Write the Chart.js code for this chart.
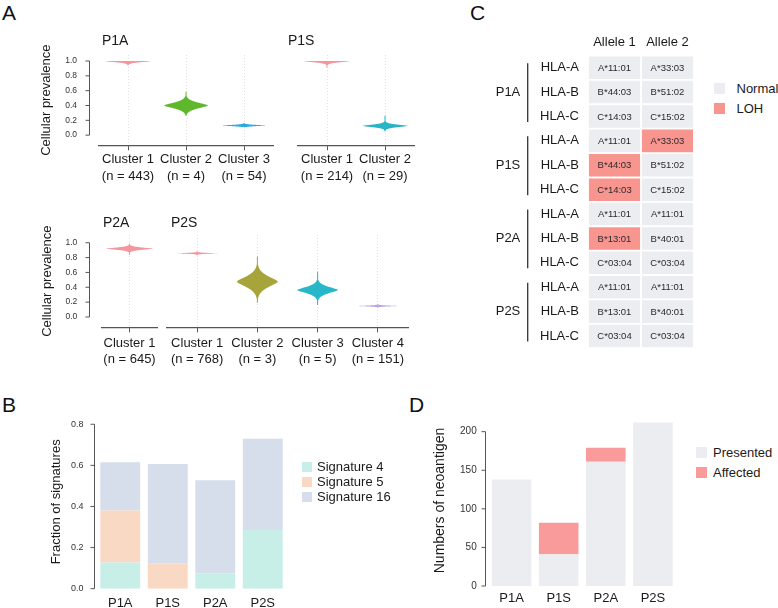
<!DOCTYPE html>
<html>
<head>
<meta charset="utf-8">
<script src="https://cdn.jsdelivr.net/npm/chart.js@4.4.1/dist/chart.umd.min.js"></script>
<style>
  body { margin: 0; background: #fff; font-family: "Liberation Sans", Arial, sans-serif; }
  #fig { position: relative; width: 778px; height: 608px; overflow: hidden; }
  #fig canvas { position: absolute; }
  .tag { position: absolute; font-size: 21px; line-height: 21px; color: #111; }
  .legend { position: absolute; font-size: 13px; color: #1a1a1a; white-space: nowrap; }
  .legend .row { display: flex; align-items: center; }
  .legend .sw { display: inline-block; flex: none; }
</style>
</head>
<body>
<div id="fig">
  <div class="tag" style="left:2px;top:2px">A</div>
  <div class="tag" style="left:2px;top:394px">B</div>
  <div class="tag" style="left:470px;top:2px">C</div>
  <div class="tag" style="left:409px;top:394px">D</div>
  <canvas id="p1a" width="255" height="160" style="left:30px;top:25px"></canvas>
  <canvas id="p1s" width="140" height="160" style="left:285px;top:25px"></canvas>
  <canvas id="p2a" width="135" height="175" style="left:30px;top:200px"></canvas>
  <canvas id="p2s" width="250" height="175" style="left:165px;top:200px"></canvas>
  <canvas id="hla" width="240" height="345" style="left:470px;top:20px"></canvas>
  <canvas id="sig" width="290" height="213" style="left:30px;top:395px"></canvas>
  <canvas id="neo" width="280" height="213" style="left:415px;top:395px"></canvas>
  <div class="legend" id="hlaLegend" style="left:714px;top:78.3px"></div>
  <div class="legend" id="sigLegend" style="left:302px;top:459.2px"></div>
  <div class="legend" id="neoLegend" style="left:696px;top:442.7px"></div>
</div>
<script>
"use strict";
// ---- A: cellular prevalence of clusters (peak, lower tip, upper tip, body spread)
const p1aClusters = ["Cluster 1", "Cluster 2", "Cluster 3"];
const p1aN = [443, 4, 54];
const p1aPeak = [0.997, 0.40, 0.13];
const p1aLow = [0.94, 0.26, 0.11];
const p1aHigh = [1.0, 0.585, 0.16];
const p1aSpread = [0.02, 0.055, 0.012];

const p1sClusters = ["Cluster 1", "Cluster 2"];
const p1sN = [214, 29];
const p1sPeak = [0.997, 0.125];
const p1sLow = [0.91, 0.05];
const p1sHigh = [1.0, 0.26];
const p1sSpread = [0.022, 0.025];

const p2aClusters = ["Cluster 1"];
const p2aN = [645];
const p2aPeak = [0.92];
const p2aLow = [0.835];
const p2aHigh = [0.99];
const p2aSpread = [0.022];

const p2sClusters = ["Cluster 1", "Cluster 2", "Cluster 3", "Cluster 4"];
const p2sN = [768, 3, 5, 151];
const p2sPeak = [0.857, 0.475, 0.363, 0.148];
const p2sLow = [0.83, 0.19, 0.16, 0.13];
const p2sHigh = [0.885, 0.81, 0.61, 0.17];
const p2sSpread = [0.008, 0.1, 0.06, 0.008];

const prevTicks = [0, 0.2, 0.4, 0.6, 0.8, 1.0];

// ---- B: mutational signatures
const samples = ["P1A", "P1S", "P2A", "P2S"];
const sigNames = ["Signature 4", "Signature 5", "Signature 16"];
const sig4 = [0.128, 0, 0.075, 0.286];
const sig5 = [0.253, 0.123, 0, 0];
const sig16 = [0.234, 0.484, 0.452, 0.444];
const sigTicks = [0, 0.2, 0.4, 0.6, 0.8];

// ---- C: HLA alleles and LOH
const hlaGroups = ["P1A", "P1S", "P2A", "P2S"];
const hlaRows = ["HLA-A", "HLA-B", "HLA-C", "HLA-A", "HLA-B", "HLA-C",
                 "HLA-A", "HLA-B", "HLA-C", "HLA-A", "HLA-B", "HLA-C"];
const alleleHeaders = ["Allele 1", "Allele 2"];
const allele1 = ["A*11:01", "B*44:03", "C*14:03", "A*11:01", "B*44:03", "C*14:03",
                 "A*11:01", "B*13:01", "C*03:04", "A*11:01", "B*13:01", "C*03:04"];
const allele2 = ["A*33:03", "B*51:02", "C*15:02", "A*33:03", "B*51:02", "C*15:02",
                 "A*11:01", "B*40:01", "C*03:04", "A*11:01", "B*40:01", "C*03:04"];
const loh1 = [0, 0, 0, 0, 1, 1, 0, 1, 0, 0, 0, 0];
const loh2 = [0, 0, 0, 1, 0, 0, 0, 0, 0, 0, 0, 0];
const hlaStates = ["Normal", "LOH"];

// ---- D: neoantigens
const neoSeries = ["Presented", "Affected"];
const presented = [138, 41, 161, 212];
const affected = [0, 41, 18, 0];
const neoTicks = [0, 50, 100, 150, 200];

const FONT = '"Liberation Sans", Arial, sans-serif';
const normalColor = "#ECEDF0";
const lohColor = "#F8958F";

Chart.defaults.font.family = FONT;
Chart.defaults.color = "#1e1e1e";
Chart.defaults.animation = false;
Chart.defaults.responsive = false;
Chart.defaults.plugins.tooltip.enabled = false;
Chart.defaults.plugins.legend.display = false;

// html legend built from the chart's own legend items
const htmlLegend = {
    id: "htmlLegend",
    afterUpdate(chart, args, o) {
        const box = document.getElementById(o.containerID);
        box.innerHTML = "";
        const items = chart.options.plugins.legend.labels.generateLabels(chart);
        items.forEach(item => {
            const row = document.createElement("div");
            row.className = "row";
            row.style.height = o.rowH + "px";
            const sw = document.createElement("span");
            sw.className = "sw";
            sw.style.width = o.box + "px";
            sw.style.height = o.box + "px";
            sw.style.marginRight = o.gap + "px";
            sw.style.background = item.fillStyle;
            const tx = document.createElement("span");
            tx.textContent = item.text;
            row.append(sw, tx);
            box.appendChild(row);
        });
    }
};

// violin bodies drawn on the y scale of each cluster
const violin = {
    id: "violin",
    afterDatasetsDraw(chart, args, o) {
        const ctx = chart.ctx;
        const ys = chart.scales.y;
        const ds = chart.data.datasets[0];
        chart.getDatasetMeta(0).data.forEach((bar, i) => {
            const lo = ds.data[i][0], hi = ds.data[i][1];
            const c = ds.peak[i], b = ds.spread[i];
            const vals = [];
            for (let k = 0; k <= 120; k++) vals.push(lo + (hi - lo) * k / 120);
            vals.push(c);
            vals.sort((a, z) => a - z);
            const pts = vals.map(v => [ys.getPixelForValue(v),
                Math.max(0.5, o.halfWidth * Math.exp(-Math.pow(Math.abs(v - c) / b, 1.5)))]);
            ctx.save();
            ctx.beginPath();
            pts.forEach((p, k) => k ? ctx.lineTo(bar.x + p[1], p[0]) : ctx.moveTo(bar.x + p[1], p[0]));
            for (let k = pts.length - 1; k >= 0; k--) ctx.lineTo(bar.x - pts[k][1], pts[k][0]);
            ctx.closePath();
            ctx.fillStyle = ds.violinColors[i];
            ctx.fill();
            ctx.restore();
        });
    }
};

// base-R style y axis: line from first to last tick, detached from the plot
const axisLine = {
    id: "axisLine",
    afterDraw(chart, args, o) {
        const s = chart.scales.y;
        const ctx = chart.ctx;
        const x = Math.round(chart.chartArea.left - o.gap) + 0.5;
        const t = s.ticks;
        ctx.save();
        ctx.strokeStyle = o.color;
        ctx.lineWidth = 1;
        ctx.beginPath();
        ctx.moveTo(x, s.getPixelForValue(t[0].value));
        ctx.lineTo(x, s.getPixelForValue(t[t.length - 1].value));
        t.forEach(tk => {
            const y = s.getPixelForValue(tk.value);
            ctx.moveTo(x, y);
            ctx.lineTo(x - o.len, y);
        });
        ctx.stroke();
        ctx.restore();
    }
};

const panelName = {
    id: "panelName",
    afterDraw(chart, args, o) {
        const ctx = chart.ctx;
        ctx.save();
        ctx.font = "14px " + FONT;
        ctx.fillStyle = "#1a1a1a";
        ctx.textBaseline = "middle";
        ctx.fillText(o.text, chart.chartArea.left + o.dx, o.y);
        ctx.restore();
    }
};

function violinChart(id, clusters, n, peak, low, high, spread, colors, opt) {
    new Chart(document.getElementById(id), {
        type: "bar",
        data: {
            labels: clusters.map((c, i) => [c, "(n = " + n[i] + ")"]),
            datasets: [{
                data: low.map((v, i) => [v, high[i]]),
                peak: peak,
                spread: spread,
                violinColors: colors,
                backgroundColor: "rgba(0,0,0,0)"
            }]
        },
        options: {
            layout: { padding: { top: opt.top, left: opt.left, right: opt.right } },
            plugins: {
                violin: { halfWidth: opt.hw },
                panelName: { text: opt.name, dx: opt.dx, y: opt.nameY },
                axisLine: { gap: opt.gap, len: 4, color: "#555" }
            },
            scales: {
                x: {
                    grid: { offset: false, color: "#e6dcdf", drawTicks: true, tickLength: 5,
                            tickColor: "#555", tickBorderDash: [] },
                    border: { display: true, color: "#555", width: 1.2, dash: [1, 2] },
                    ticks: { padding: opt.xPad, font: { size: 13, lineHeight: 1.28 }, color: "#1a1a1a",
                             maxRotation: 0, minRotation: 0, autoSkip: false },
                    afterFit: s => { s.height = opt.xh; }
                },
                y: {
                    display: opt.showY,
                    min: opt.min, max: opt.max,
                    grid: { display: false, drawTicks: false },
                    border: { display: false },
                    afterBuildTicks: s => { s.ticks = prevTicks.map(v => ({ value: v })); },
                    ticks: { padding: opt.gap + 12, font: { size: 8.5 }, color: "#333",
                             callback: v => v.toFixed(1) },
                    title: { display: true, text: "Cellular prevalence", font: { size: 13 },
                             color: "#1a1a1a", padding: { top: opt.titlePad, bottom: 0 } },
                    afterFit: s => { s.width = opt.yw; }
                }
            }
        },
        plugins: opt.showY ? [violin, panelName, axisLine] : [violin, panelName]
    });
}

const pink = "#F4959F";
violinChart("p1a", p1aClusters, p1aN, p1aPeak, p1aLow, p1aHigh, p1aSpread,
    [pink, "#5FB82B", "#2AA9DA"],
    { top: 30, left: 0, right: 12, hw: 22, name: "P1A", dx: 3, nameY: 16, gap: 10,
      xh: 39.7, xPad: 0.7, showY: true, min: -0.137, max: 1.081, titlePad: 9, yw: 69 });
violinChart("p1s", p1sClusters, p1sN, p1sPeak, p1sLow, p1sHigh, p1sSpread,
    [pink, "#27B4C6"],
    { top: 30, left: 13, right: 11, hw: 22.5, name: "P1S", dx: -10, nameY: 16, gap: 10,
      xh: 39.7, xPad: 0.7, showY: false, min: -0.137, max: 1.081, titlePad: 9, yw: 0 });
violinChart("p2a", p2aClusters, p2aN, p2aPeak, p2aLow, p2aHigh, p2aSpread,
    [pink],
    { top: 35, left: 0, right: 8, hw: 23.5, name: "P2A", dx: 1, nameY: 23.5, gap: 12.7,
      xh: 47.7, xPad: 2.4, showY: true, min: -0.139, max: 1.104, titlePad: 10, yw: 72 });
violinChart("p2s", p2sClusters, p2sN, p2sPeak, p2sLow, p2sHigh, p2sSpread,
    [pink, "#A7A43C", "#27B7C9", "#B7A5E3"],
    { top: 35, left: 2, right: 7, hw: 20.5, name: "P2S", dx: 4, nameY: 23.5, gap: 12.7,
      xh: 47.7, xPad: 2.4, showY: false, min: -0.139, max: 1.104, titlePad: 10, yw: 0 });

// ---- C
const cellText = {
    id: "cellText",
    afterDatasetsDraw(chart) {
        const ctx = chart.ctx;
        ctx.save();
        ctx.font = "9.5px " + FONT;
        ctx.fillStyle = "#2a2a2a";
        ctx.textAlign = "center";
        ctx.textBaseline = "middle";
        chart.data.datasets.forEach((ds, d) => {
            chart.getDatasetMeta(d).data.forEach((bar, i) => {
                const p = bar.getCenterPoint();
                ctx.fillText(ds.names[i], p.x, p.y + 0.5);
            });
        });
        ctx.restore();
    }
};

const groupMarks = {
    id: "groupMarks",
    afterDraw(chart, args, o) {
        const ys = chart.scales.y;
        const left = chart.chartArea.left;
        const ctx = chart.ctx;
        const per = hlaRows.length / hlaGroups.length;
        ctx.save();
        ctx.font = "13px " + FONT;
        ctx.fillStyle = "#1a1a1a";
        ctx.textAlign = "center";
        ctx.textBaseline = "middle";
        ctx.strokeStyle = "#333";
        ctx.lineWidth = 1.3;
        hlaGroups.forEach((g, k) => {
            const y1 = ys.getPixelForValue(k * per);
            const y2 = ys.getPixelForValue(k * per + per - 1);
            ctx.fillText(g, left + o.labelDx, (y1 + y2) / 2);
            ctx.beginPath();
            ctx.moveTo(left + o.lineDx, y1 - 4.5);
            ctx.lineTo(left + o.lineDx, y2 + 5.5);
            ctx.stroke();
        });
        ctx.restore();
    }
};

new Chart(document.getElementById("hla"), {
    type: "bar",
    data: {
        labels: hlaRows,
        datasets: [
            { label: alleleHeaders[0], data: allele1.map(() => 1), names: allele1,
              backgroundColor: loh1.map(f => f ? lohColor : normalColor) },
            { label: alleleHeaders[1], data: allele2.map(() => 1), names: allele2,
              backgroundColor: loh2.map(f => f ? lohColor : normalColor) }
        ]
    },
    options: {
        indexAxis: "y",
        datasets: { bar: { categoryPercentage: 1, barPercentage: 1, borderWidth: 1.25,
                           borderColor: "#fff", borderSkipped: false } },
        layout: { padding: { right: 16, bottom: 10.5 } },
        plugins: {
            legend: {
                labels: {
                    generateLabels: () => hlaStates.map((t, i) => ({
                        text: t, fillStyle: i ? lohColor : normalColor,
                        strokeStyle: i ? lohColor : normalColor, lineWidth: 0, hidden: false
                    }))
                }
            },
            htmlLegend: { containerID: "hlaLegend", rowH: 20, box: 11, gap: 11.5 },
            groupMarks: { labelDx: -80, lineDx: -60.3 }
        },
        scales: {
            x: {
                position: "top", stacked: true, min: 0, max: 2,
                grid: { display: false, drawTicks: false },
                border: { display: false },
                afterBuildTicks: s => { s.ticks = alleleHeaders.map((h, i) => ({ value: i + 0.5 })); },
                ticks: { padding: 5, font: { size: 13 }, color: "#1a1a1a", maxRotation: 0,
                         callback: (v, i) => alleleHeaders[i] },
                afterFit: s => { s.height = 35.5; }
            },
            y: {
                stacked: true,
                grid: { display: false, drawTicks: false },
                border: { display: false },
                ticks: { autoSkip: false, padding: 9, font: { size: 13 }, color: "#1a1a1a" },
                afterFit: s => { s.width = 118; }
            }
        }
    },
    plugins: [cellText, groupMarks, htmlLegend]
});

// ---- B
new Chart(document.getElementById("sig"), {
    type: "bar",
    data: {
        labels: samples,
        datasets: [
            { label: sigNames[0], data: sig4, backgroundColor: "#C8EEE8" },
            { label: sigNames[1], data: sig5, backgroundColor: "#FAD9C4" },
            { label: sigNames[2], data: sig16, backgroundColor: "#D6DEEB" }
        ]
    },
    options: {
        datasets: { bar: { categoryPercentage: 1, barPercentage: 0.84, borderWidth: 0 } },
        layout: { padding: { top: 20, right: 33.5 } },
        plugins: {
            htmlLegend: { containerID: "sigLegend", rowH: 15, box: 10, gap: 5 },
            axisLine: { gap: 3, len: 4, color: "#555" }
        },
        scales: {
            x: {
                stacked: true,
                grid: { display: false, drawTicks: false }, border: { display: false },
                ticks: { padding: 6.8, font: { size: 13 }, color: "#1a1a1a" },
                afterFit: s => { s.height = 19.3; }
            },
            y: {
                stacked: true, min: 0, max: 0.845,
                grid: { display: false, drawTicks: false }, border: { display: false },
                afterBuildTicks: s => { s.ticks = sigTicks.map(v => ({ value: v })); },
                ticks: { padding: 13, font: { size: 9 }, color: "#333", callback: v => v.toFixed(1) },
                title: { display: true, text: "Fraction of signatures", font: { size: 13 },
                         color: "#1a1a1a", padding: { top: 19, bottom: 0 } },
                afterFit: s => { s.width = 66.5; }
            }
        }
    },
    plugins: [axisLine, htmlLegend]
});

// ---- D
new Chart(document.getElementById("neo"), {
    type: "bar",
    data: {
        labels: samples,
        datasets: [
            { label: neoSeries[0], data: presented, backgroundColor: "#ECEDF1" },
            { label: neoSeries[1], data: affected, backgroundColor: "#F99B9B" }
        ]
    },
    options: {
        datasets: { bar: { categoryPercentage: 1, barPercentage: 0.84, borderWidth: 0 } },
        layout: { padding: { top: 20, right: 18.5 } },
        plugins: {
            htmlLegend: { containerID: "neoLegend", rowH: 20, box: 10.5, gap: 6.5 },
            axisLine: { gap: 2.7, len: 4, color: "#555" }
        },
        scales: {
            x: {
                stacked: true,
                grid: { display: false, drawTicks: false }, border: { display: false },
                ticks: { padding: 4.5, font: { size: 13 }, color: "#1a1a1a" },
                afterFit: s => { s.height = 22; }
            },
            y: {
                stacked: true, min: 0, max: 221.6,
                grid: { display: false, drawTicks: false }, border: { display: false },
                afterBuildTicks: s => { s.ticks = neoTicks.map(v => ({ value: v })); },
                ticks: { padding: 11.3, font: { size: 10 }, color: "#333" },
                title: { display: true, text: "Numbers of neoantigen", font: { size: 14 },
                         color: "#1a1a1a", padding: { top: 16.6, bottom: 0 } },
                afterFit: s => { s.width = 73; }
            }
        }
    },
    plugins: [axisLine, htmlLegend]
});
</script>
</body>
</html>
